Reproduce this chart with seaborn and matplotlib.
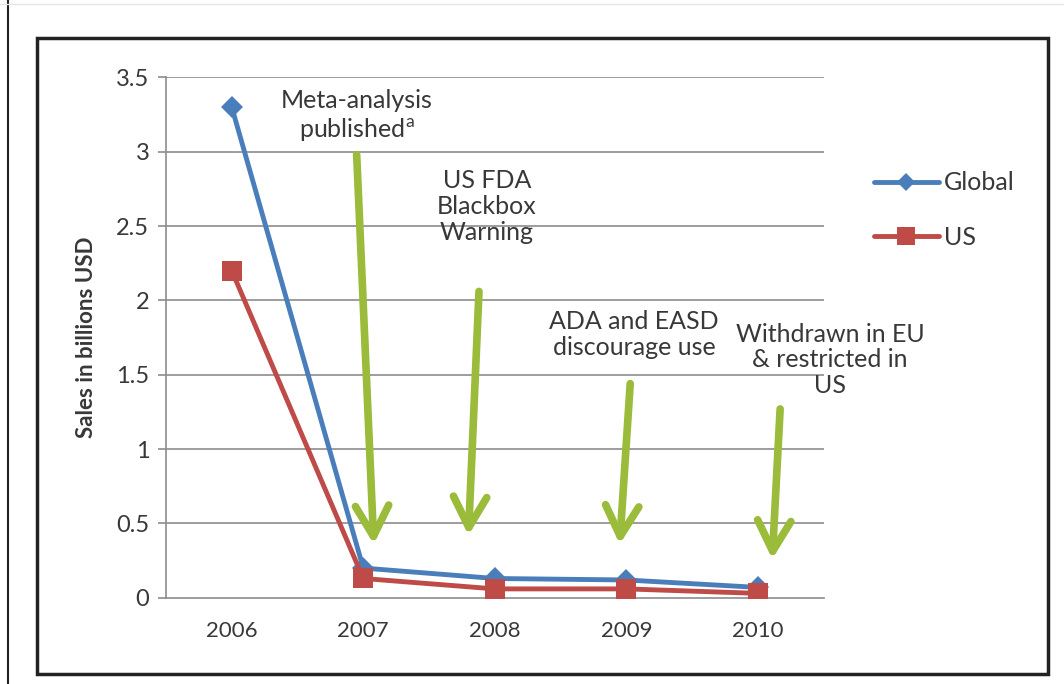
import numpy as np
import pandas as pd
import seaborn as sns
import matplotlib.pyplot as plt
from matplotlib.patches import Rectangle
from matplotlib.lines import Line2D

years = ['2006', '2007', '2008', '2009', '2010']
global_sales = [3.3, 0.2, 0.13, 0.12, 0.07]
us_sales = [2.2, 0.13, 0.06, 0.06, 0.03]

event_labels = ['Meta-analysis\npublished$^{\\mathregular{a}}$',
                'US FDA\nBlackbox\nWarning',
                'ADA and EASD\ndiscourage use',
                'Withdrawn in EU\n& restricted in\nUS']
# where the text sits and where each arrow starts / ends (category index, value)
label_pos = [(0.95, 3.24), (1.94, 2.63), (3.06, 1.77), (4.55, 1.6)]
arrow_tail = [(0.95, 2.98), (1.88, 2.06), (3.03, 1.44), (4.17, 1.27)]
arrow_head = [(1.08, 0.36), (1.80, 0.42), (2.95, 0.36), (4.11, 0.26)]

df = pd.DataFrame({
    'x': list(range(len(years))) * 2,
    'sales': global_sales + us_sales,
    'series': ['Global'] * len(years) + ['US'] * len(years),
})

sns.set_style('white')
plt.rcParams['font.family'] = ['Lato', 'DejaVu Sans']

fig = plt.figure(figsize=(10.64, 6.84), dpi=100)
ax = fig.add_axes([0.156, 0.126, 0.618, 0.761])

blue = '#4a7ebb'
red = '#be4b48'
green = '#9bbb3b'
txt_col = '#383838'

# grid lines first so they sit under everything
for v in np.arange(0.5, 3.51, 0.5):
    ax.axhline(v, color='#8c8c8c', lw=1.2, zorder=0)

sns.lineplot(data=df, x='x', y='sales', hue='series', style='series',
             palette={'Global': blue, 'US': red},
             markers={'Global': 'D', 'US': 's'}, dashes=False,
             markersize=11, linewidth=3.5, markeredgewidth=0,
             legend=False, ax=ax, zorder=3)
for line in ax.get_lines():
    if line.get_marker() == 's':
        line.set_markersize(15)

ax.set_xlim(-0.5, 4.5)
ax.set_ylim(0, 3.5)
ax.set_xticks(range(len(years)))
ax.set_xticklabels(years, fontsize=16, color=txt_col)
ax.set_xticks(np.arange(-0.5, 4.6, 1), minor=True)
ax.tick_params(axis='x', which='major', length=0, pad=17)
ax.tick_params(axis='x', which='minor', length=6, width=1.2, color='#8c8c8c', direction='out')
ax.set_yticks(np.arange(0, 3.51, 0.5))
ax.set_yticklabels(['0', '0.5', '1', '1.5', '2', '2.5', '3', '3.5'], fontsize=17, color=txt_col)
ax.tick_params(axis='y', length=6, width=1.2, color='#8c8c8c', direction='out', left=True, pad=6)
ax.set_xlabel('')
ax.set_ylabel('Sales in billions USD', fontsize=16, fontweight='bold', color=txt_col, labelpad=14)

for side in ['top', 'right']:
    ax.spines[side].set_visible(False)
for side in ['left', 'bottom']:
    ax.spines[side].set_color('#8c8c8c')
    ax.spines[side].set_linewidth(1.2)

for txt, pos, tail, head in zip(event_labels, label_pos, arrow_tail, arrow_head):
    ax.text(pos[0], pos[1], txt, ha='center', va='center', fontsize=18,
            color=txt_col, linespacing=1.15, zorder=5)
    ax.annotate('', xy=head, xytext=tail,
                arrowprops=dict(arrowstyle='->,head_length=2.2,head_width=1.2',
                                color=green, lw=5.5, shrinkA=0, shrinkB=0),
                zorder=4)

# legend at the right of the plot area
handles = [Line2D([0], [0], color=blue, lw=3.5, marker='D', markersize=9, markeredgewidth=0),
           Line2D([0], [0], color=red, lw=3.5, marker='s', markersize=13, markeredgewidth=0)]
fig.legend(handles, ['Global', 'US'], loc='center left', bbox_to_anchor=(0.8, 0.693),
           frameon=False, fontsize=18, handlelength=2.6, handletextpad=0.2,
           labelspacing=1.25, labelcolor=txt_col)

# outer chart border and the page edge line
fig.patches.append(Rectangle((37 / 1064, 10 / 684), (1048 - 37) / 1064, (646 - 10) / 684,
                             transform=fig.transFigure, fill=False, ec='#222222', lw=2.5))
fig.lines.append(Line2D([8 / 1064, 8 / 1064], [0, 1], transform=fig.transFigure,
                        color='#222222', lw=1.5))
fig.lines.append(Line2D([0, 1], [680 / 684, 680 / 684], transform=fig.transFigure,
                        color='#e6e6e6', lw=1))

fig.savefig('out.png', dpi=100)
